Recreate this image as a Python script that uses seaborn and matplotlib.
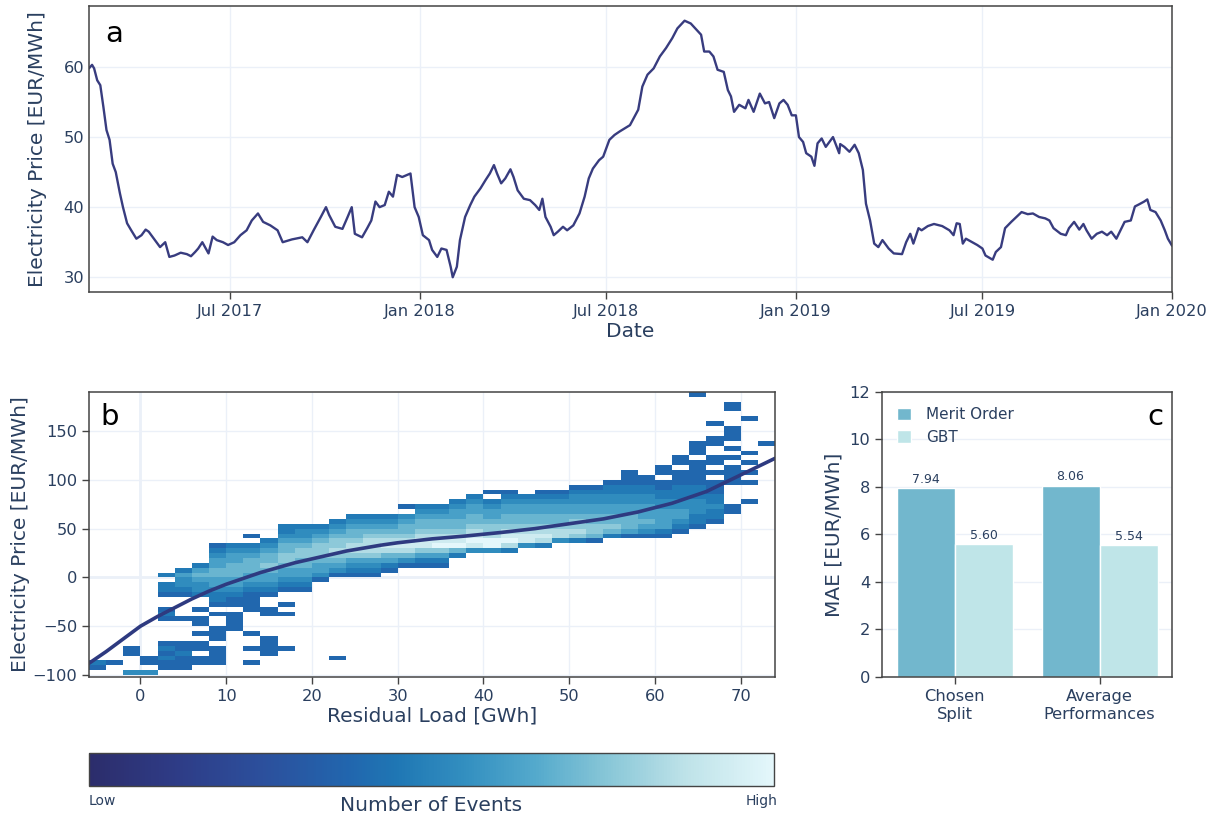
import numpy as np
import pandas as pd
import matplotlib
matplotlib.use('Agg')
import matplotlib.pyplot as plt
import matplotlib.dates as mdates
from matplotlib.colors import LinearSegmentedColormap, Normalize
from matplotlib.cm import ScalarMappable
from matplotlib.collections import QuadMesh
import seaborn as sns

sns.set_theme(style='white')
plt.rcParams['font.family'] = ['DejaVu Sans']

TEXT = '#2a3f5f'
GRID = '#ebf0f8'
FRAME = '#444444'

# ---- panel a: smoothed electricity price
PRICE_START = '2017-02-14'
PRICE_END = '2020-01-01'
PRICE_DAY = [
    0, 3, 5, 8, 11, 14, 17, 20, 23, 26, 30, 33, 37, 41, 46, 51, 55, 58, 64, 69,
    74, 78, 83, 89, 95, 99, 103, 106, 110, 116, 120, 124, 130, 135, 141, 147,
    153, 158, 164, 169, 176, 183, 188, 197, 207, 212, 218, 225, 230, 233, 239,
    246, 251, 255, 258, 265, 270, 274, 278, 282, 287, 291, 295, 299, 304, 312,
    316, 320, 324, 330, 333, 338, 342, 347, 351, 353, 357, 360, 365, 370, 374,
    380, 385, 389, 393, 396, 400, 404, 409, 412, 416, 422, 428, 433, 437, 440,
    443, 448, 451, 455, 460, 464, 470, 476, 481, 485, 489, 495, 499, 505, 510,
    515, 525, 533, 537, 542, 548, 554, 560, 566, 571, 578, 584, 589, 594, 597,
    602, 606, 610, 616, 620, 623, 626, 631, 637, 640, 645, 651, 656, 660, 665,
    670, 674, 678, 682, 686, 689, 693, 696, 701, 704, 707, 711, 715, 722, 728,
    729, 733, 738, 743, 747, 751, 754, 758, 762, 766, 770, 776, 781, 789, 793,
    797, 800, 805, 808, 814, 820, 828, 835, 839, 842, 845, 848, 851, 857, 862,
    867, 870, 877, 880, 885, 889, 895, 900, 905, 911, 916, 922, 928, 932, 936,
    943, 948, 951, 956, 961, 965, 968, 973, 978, 983, 988, 992, 997, 1001,
    1005, 1011, 1015, 1019, 1024, 1027, 1030, 1035, 1040, 1044, 1047, 1051,
]
PRICE = [
    59.8, 60.3, 59.8, 58.1, 57.4, 54.3, 51.0, 49.6, 46.2, 45.0, 42.0, 40.0,
    37.7, 36.7, 35.5, 36.0, 36.8, 36.5, 35.3, 34.3, 35.0, 32.9, 33.1, 33.5,
    33.3, 33.0, 33.6, 34.1, 35.0, 33.4, 35.8, 35.3, 35.0, 34.6, 35.0, 36.0,
    36.7, 38.1, 39.1, 37.9, 37.4, 36.7, 35.0, 35.4, 35.7, 35.0, 36.7, 38.6,
    40.0, 38.9, 37.2, 36.9, 38.6, 40.0, 36.2, 35.7, 37.0, 38.1, 40.8, 40.0,
    40.3, 42.2, 41.5, 44.6, 44.3, 44.8, 40.0, 38.6, 36.0, 35.3, 33.9, 32.9,
    34.1, 33.9, 31.5, 30.0, 31.5, 35.3, 38.6, 40.3, 41.5, 42.7, 43.9, 44.8,
    46.0, 44.8, 43.4, 44.1, 45.4, 44.3, 42.4, 41.2, 41.0, 40.3, 39.6, 41.2,
    38.6, 37.2, 36.0, 36.5, 37.2, 36.7, 37.4, 39.1, 41.5, 44.1, 45.5, 46.7,
    47.2, 49.6, 50.3, 50.8, 51.7, 53.9, 57.2, 58.9, 59.8, 61.5, 62.7, 64.1,
    65.5, 66.6, 66.2, 65.4, 64.6, 62.2, 62.2, 61.5, 59.6, 59.3, 56.7, 55.8,
    53.6, 54.6, 54.1, 55.3, 53.6, 56.2, 54.8, 55.0, 52.7, 54.8, 55.3, 54.6,
    53.1, 53.1, 50.0, 49.3, 47.7, 47.2, 45.9, 49.1, 49.8, 48.6, 50.0, 47.7,
    49.0, 48.6, 47.9, 48.9, 47.7, 45.3, 40.5, 38.1, 34.8, 34.3, 35.3, 34.1,
    33.4, 33.3, 35.0, 36.2, 34.8, 37.0, 36.7, 37.3, 37.6, 37.3, 36.7, 36.0,
    37.7, 37.6, 34.8, 35.5, 35.0, 34.6, 34.1, 33.1, 32.5, 33.6, 34.3, 37.0,
    37.9, 38.6, 39.3, 39.0, 39.1, 38.6, 38.4, 38.1, 37.0, 36.2, 36.0, 37.0,
    37.9, 36.8, 37.6, 36.7, 35.5, 36.2, 36.5, 36.0, 36.5, 35.5, 36.7, 37.9,
    38.1, 40.1, 40.4, 40.8, 41.1, 39.6, 39.3, 38.1, 36.7, 35.5, 34.5,
]

# ---- panel b: 2d histogram of price vs residual load
# one entry per 2 GWh column starting at -6 GWh;
# each segment = (lower price edge, levels upward in 5 EUR steps, '.' = empty)
LOAD_START, LOAD_BIN, PRICE_BIN = -6, 2, 5
HIST_COLS = [
    [(-95, "12")],
    [(-90, "1")],
    [(-100, "3...11")],
    [(-100, "3.11")],
    [(-95, "112121....121..122.2")],
    [(-95, "111211....1....123342")],
    [(-90, "11.11.1.11.1..2334542")],
    [(-90, "1111.111..1.1223445544321")],
    [(-55, "1111.1123445554432")],
    [(-90, "1..1..1....11112344555432.1")],
    [(-80, "1111....11..123445655432")],
    [(-75, "1......1.1..12344566554322")],
    [(-15, "12344556654332")],
    [(-5, "134456665432")],
    [(-85, "1"), (0, "134567665432")],
    [(0, "1234677655432")],
    [(0, "1234677765432")],
    [(5, "124578765432")],
    [(10, "13578765543.1")],
    [(10, "1246887655432")],
    [(10, "1246987655432")],
    [(20, "259876554432")],
    [(25, "389876554432")],
    [(25, "39976654432.1")],
    [(25, "2798765544321")],
    [(30, "38876554432")],
    [(30, "278765544321")],
    [(35, "37765544321")],
    [(35, "267665443321")],
    [(35, "156655443321")],
    [(40, "256554433221")],
    [(40, "14555443322111")],
    [(40, "1345444332211")],
    [(40, "124444332211.11")],
    [(45, "1234433222111.11")],
    [(50, "12233322211111.111.........1")],
    [(55, "122322111.1.11..11..1")],
    [(65, "11....1111.1.1.111...11")],
    [(75, "1...1.1.1.1......1")],
    [(135, "1")],
]
FIT_LOAD = [-6, -4, -2, 0, 2, 4, 6, 8, 10, 12, 14, 16, 18, 20, 22, 24, 26, 28,
            30, 34, 38, 42, 46, 50, 54, 58, 62, 66, 70, 74]
FIT_PRICE = [-88, -76, -63, -50, -40, -31, -22, -14, -7, -1, 5, 10, 15, 19, 23,
             27, 30, 33, 35.5, 39.5, 42.5, 46, 50, 55, 60, 67, 76, 88, 105, 122]

# ---- panel c: MAE comparison
SPLITS = ['Chosen\nSplit', 'Average\nPerformances']
MAE_MERIT = [7.94, 8.06]
MAE_GBT = [5.60, 5.54]

ice = LinearSegmentedColormap.from_list('ice_part', [
    (0.0, '#2c2d6b'), (0.12, '#2e3b85'), (0.25, '#2c4f9c'), (0.38, '#2166ae'),
    (0.45, '#1f77b4'), (0.55, '#338fc0'), (0.65, '#53a9cc'), (0.75, '#84c4d6'),
    (0.87, '#bde2e8'), (1.0, '#e4f7fb')])
HIST_NORM = Normalize(vmin=-4, vmax=9)


def style(ax, ytick_len=5):
    ax.set_facecolor('white')
    ax.grid(True, color=GRID, lw=1)
    ax.set_axisbelow(True)
    for s in ax.spines.values():
        s.set_visible(True)
        s.set_color(FRAME)
        s.set_linewidth(1.1)
    ax.tick_params(colors=FRAME, labelcolor=TEXT, labelsize=11.7, length=5,
                   width=1, direction='out', bottom=True, left=True)
    ax.tick_params(axis='y', length=ytick_len)


fig = plt.figure(figsize=(12.22, 8.19), dpi=100)

# panel a
axa = fig.add_axes([0.0728, 0.6435, 0.8863, 0.3492])
dates = pd.to_datetime(PRICE_START) + pd.to_timedelta(PRICE_DAY, unit='D')
sns.lineplot(x=dates, y=PRICE, ax=axa, color='#383c7f', lw=1.7)
axa.set_xlim(pd.to_datetime(PRICE_START), pd.to_datetime(PRICE_END))
axa.set_ylim(27.9, 68.7)
axa.set_yticks([30, 40, 50, 60])
axa.xaxis.set_major_locator(mdates.MonthLocator(bymonth=[1, 7]))
axa.xaxis.set_major_formatter(mdates.DateFormatter('%b %Y'))
style(axa, ytick_len=0)
axa.set_xlabel('Date', fontsize=14.5, color=TEXT, labelpad=2)
axa.set_ylabel('Electricity Price [EUR/MWh]', fontsize=14.5, color=TEXT, labelpad=12)
axa.text(0.0148, 0.874, 'a', transform=axa.transAxes, fontsize=21, color='black')

# panel b
axb = fig.add_axes([0.0728, 0.1734, 0.5614, 0.348])
cells = []
for i, segs in enumerate(HIST_COLS):
    x_mid = LOAD_START + LOAD_BIN * i + LOAD_BIN / 2
    for y0, levels in segs:
        for k, ch in enumerate(levels):
            if ch != '.':
                cells.append((x_mid, y0 + PRICE_BIN * k + PRICE_BIN / 2, int(ch)))
hist = pd.DataFrame(cells, columns=['load', 'price', 'level'])
axb.axhline(0, color=GRID, lw=2, zorder=0.6)
axb.axvline(0, color=GRID, lw=2, zorder=0.6)
sns.histplot(data=hist, x='load', y='price', weights='level',
             binwidth=(LOAD_BIN, PRICE_BIN), binrange=((-6, 74), (-100, 190)),
             cmap=ice, ax=axb)
for coll in axb.collections:
    if isinstance(coll, QuadMesh):
        coll.set_cmap(ice)
        coll.set_norm(HIST_NORM)
        coll.set_clim(HIST_NORM.vmin, HIST_NORM.vmax)
sns.lineplot(x=FIT_LOAD, y=FIT_PRICE, ax=axb, color='#2e3a80', lw=2.6)
axb.set_xlim(-6, 74)
axb.set_ylim(-102, 190)
axb.set_xticks(range(0, 71, 10))
axb.set_yticks([-100, -50, 0, 50, 100, 150])
style(axb)
axb.set_xlabel('Residual Load [GWh]', fontsize=14.5, color=TEXT, labelpad=2)
axb.set_ylabel('Electricity Price [EUR/MWh]', fontsize=14.5, color=TEXT, labelpad=2)
axb.text(0.016, 0.884, 'b', transform=axb.transAxes, fontsize=21, color='black')

# colorbar
cax = fig.add_axes([0.0728, 0.0403, 0.5606, 0.0403])
cb = fig.colorbar(ScalarMappable(norm=Normalize(0, 1), cmap=ice), cax=cax,
                  orientation='horizontal')
cb.set_ticks([])
cb.outline.set_edgecolor(FRAME)
cb.outline.set_linewidth(1)
fig.text(0.0728, 0.017, 'Low', fontsize=10, color=TEXT, ha='left')
fig.text(0.0728 + 0.5606 + 0.003, 0.017, 'High', fontsize=10, color=TEXT, ha='right')
fig.text(0.353, 0.010, 'Number of Events', fontsize=14.5, color=TEXT, ha='center')

# panel c
axc = fig.add_axes([0.7218, 0.1734, 0.2373, 0.348])
mae = pd.DataFrame({
    'split': SPLITS * 2,
    'mae': MAE_MERIT + MAE_GBT,
    'model': ['Merit Order'] * 2 + ['GBT'] * 2,
})
sns.barplot(data=mae, x='split', y='mae', hue='model',
            palette={'Merit Order': '#72b7cd', 'GBT': '#bfe5e8'},
            saturation=1, edgecolor='white', linewidth=1, width=0.8, ax=axc)
for cont in axc.containers:
    axc.bar_label(cont, fmt='%.2f', padding=1.5, fontsize=9, color=TEXT)
axc.set_ylim(0, 12)
axc.set_yticks(range(0, 13, 2))
axc.set_xlim(-0.5, 1.5)
style(axc)
axc.grid(False, axis='x')
plt.setp(axc.get_xticklabels(), linespacing=1.3)
axc.set_xlabel('')
axc.set_ylabel('MAE [EUR/MWh]', fontsize=14.5, color=TEXT, labelpad=4)
axc.legend(title=None, loc='upper left', frameon=False, fontsize=11,
           handlelength=0.9, handleheight=0.9, labelcolor=TEXT,
           borderaxespad=0.6, handletextpad=1.0)
axc.text(0.969, 0.884, 'c', transform=axc.transAxes, fontsize=21,
         color='black', ha='right')

fig.savefig('out.png', dpi=100)
